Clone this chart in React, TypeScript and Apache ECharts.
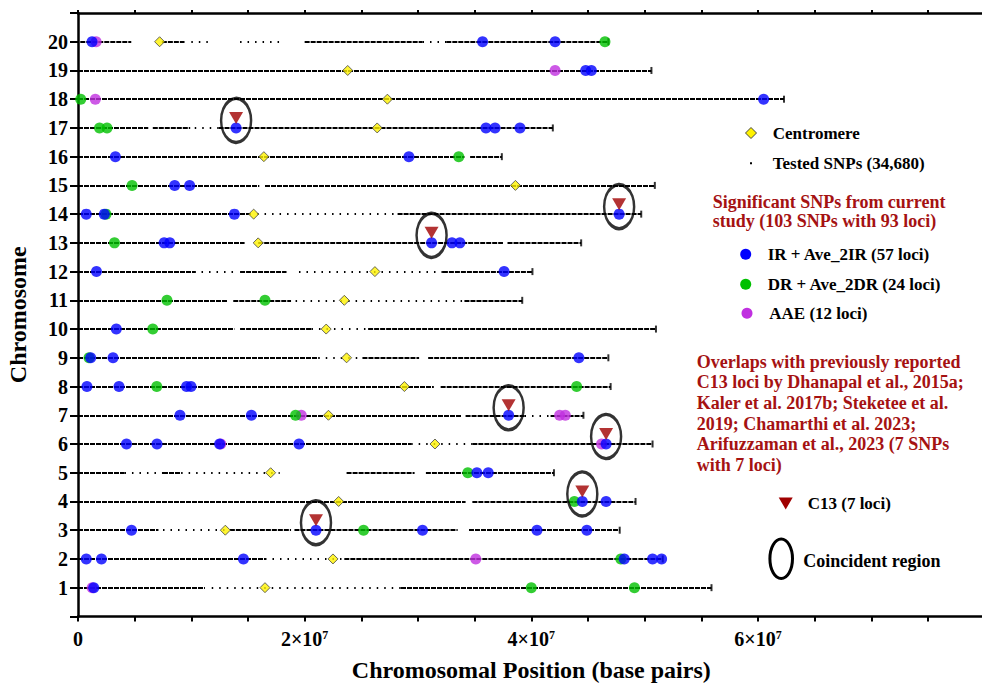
import React, { useEffect, useRef } from "react";
import * as echarts from "echarts";

// ---------- data (positions in Mb, chromosome index on y) ----------
const chromosomes = [1, 2, 3, 4, 5, 6, 7, 8, 9, 10, 11, 12, 13, 14, 15, 16, 17, 18, 19, 20];
const chromLengthMb = [55.9, 51.6, 47.8, 49.2, 42.0, 50.7, 44.6, 47.0, 46.8, 51.0, 39.2, 40.1, 44.4, 49.7, 50.9, 37.4, 41.9, 62.3, 50.6, 46.8];
const centromereMb = [16.5, 22.5, 13.0, 23.0, 17.0, 31.5, 22.1, 28.8, 23.7, 21.9, 23.5, 26.2, 15.9, 15.5, 38.6, 16.4, 26.4, 27.3, 23.8, 7.2];

// tested SNP coverage: [chromosome, startMb, endMb]
const denseSnpSegments: [number, number, number][] = [
  [1, 0, 11.2], [1, 28.5, 55.9],
  [2, 0, 16.5], [2, 23.5, 51.6],
  [3, 0, 7.1], [3, 13.4, 18.8], [3, 19.1, 33.5], [3, 34.5, 47.8],
  [4, 0, 34.2], [4, 34.8, 49.2],
  [5, 0, 4.1], [5, 7.5, 9.1], [5, 23.7, 29.7], [5, 30.7, 42.0],
  [6, 0, 29.4], [6, 34.8, 50.7],
  [7, 0, 33.8], [7, 34.2, 39.4], [7, 41.7, 44.6],
  [8, 0, 31.4], [8, 32.0, 47.0],
  [9, 0, 21.2], [9, 25.1, 30.1], [9, 30.9, 46.8],
  [10, 0, 13.8], [10, 14.3, 20.6], [10, 25.6, 51.0],
  [11, 0, 13.2], [11, 13.7, 18.8], [11, 34.1, 39.2],
  [12, 0, 10.4], [12, 14.3, 18.4], [12, 32.2, 40.1],
  [13, 0, 14.7], [13, 15.9, 37.5], [13, 37.9, 44.4],
  [14, 0, 15.3], [14, 28.2, 49.7],
  [15, 0, 16.0], [15, 16.5, 50.9],
  [16, 0, 34.1], [16, 34.6, 37.4],
  [17, 0, 6.2], [17, 6.6, 9.9], [17, 12.4, 41.9],
  [18, 0, 62.3],
  [19, 0, 50.6],
  [20, 0.2, 4.7], [20, 7.4, 9.4], [20, 20.0, 30.4], [20, 32.5, 46.8],
];
const sparseSnpSegments: [number, number, number][] = [
  [1, 11.8, 28.5], [2, 16.5, 23.5], [3, 7.5, 13.4],
  [5, 4.1, 7.5], [5, 9.1, 17.8], [6, 29.4, 34.8], [7, 39.4, 41.7],
  [9, 21.2, 25.1], [10, 20.6, 25.6], [11, 19.2, 34.1],
  [12, 10.9, 13.8], [12, 19.5, 32.2], [14, 15.8, 28.2], [17, 10.3, 12.4],
  [20, 10.0, 11.6], [20, 14.3, 18.1], [20, 30.4, 32.5],
];

// significant SNPs: [chromosome, positionMb]
const irSnps: [number, number][] = [
  [20, 1.24], [20, 35.7], [20, 42.1],
  [19, 44.8], [19, 45.3],
  [18, 60.5],
  [17, 13.95], [17, 36.0], [17, 36.8], [17, 39.0],
  [16, 3.3], [16, 29.2],
  [15, 8.53], [15, 9.85],
  [14, 0.73], [14, 2.32], [14, 13.8], [14, 47.75],
  [13, 7.6], [13, 8.1], [13, 31.2], [13, 33.0], [13, 33.7],
  [12, 1.63], [12, 37.6],
  [10, 3.38],
  [9, 1.12], [9, 3.09], [9, 44.2],
  [8, 0.79], [8, 3.62], [8, 9.58], [8, 9.97],
  [7, 9.0], [7, 15.3], [7, 38.0],
  [6, 4.28], [6, 6.97], [6, 12.5], [6, 19.5], [6, 46.6],
  [5, 35.2], [5, 36.2],
  [4, 44.5], [4, 46.6],
  [3, 4.72], [3, 21.0], [3, 30.4], [3, 40.5], [3, 44.9],
  [2, 0.73], [2, 2.07], [2, 14.6], [2, 48.2], [2, 50.7], [2, 51.5],
  [1, 1.39],
];
const drSnps: [number, number][] = [
  [20, 46.5], [18, 0.24], [17, 1.9], [17, 2.56], [16, 33.6], [15, 4.77],
  [14, 2.47], [13, 3.22], [11, 7.85], [11, 16.5], [10, 6.6], [9, 0.97],
  [8, 6.95], [8, 44.0], [7, 19.2], [5, 34.4], [4, 43.8], [3, 25.2],
  [2, 47.9], [1, 40.0], [1, 49.1],
];
const aaeSnps: [number, number][] = [
  [20, 1.6], [19, 42.1], [18, 1.53], [7, 19.7], [7, 42.5], [7, 43.0],
  [6, 12.6], [6, 46.2], [2, 35.1], [1, 1.25],
];
const c13Loci: [number, number][] = [
  [17, 13.95], [14, 47.75], [13, 31.2], [7, 38.0], [6, 46.6], [4, 44.5], [3, 21.0],
];

const xTickLabels = ["0", "2×10{sup|7}", "4×10{sup|7}", "6×10{sup|7}"];

const FONT = "'Times New Roman', 'Liberation Serif', serif";
const RED = "#A51212";
const BLUE = "#0000FF";
const GREEN = "#00C000";
const PURPLE = "#C030E0";
const MB = 1e6;

const toPts = (arr: [number, number][]) => arr.map(([c, p]) => [p * MB, c]);

function buildOption() {
  const dense = denseSnpSegments.map(([c, s, e]) => ({ coords: [[s * MB, c], [e * MB, c]] }));
  const sparse = sparseSnpSegments.map(([c, s, e]) => ({ coords: [[s * MB, c], [e * MB, c]] }));
  const ends = chromosomes.map((c, i) => [chromLengthMb[i] * MB, c]);
  const cents = chromosomes.map((c, i) => [centromereMb[i] * MB, c]);

  const txt = (x: number, y: number, text: string, size: number, fill = "#000", extra: any = {}) => ({
    type: "text",
    x,
    y,
    silent: true,
    style: {
      text,
      fill,
      font: `bold ${size}px ${FONT}`,
      verticalAlign: "middle",
      align: "left",
      ...extra,
    },
  });

  return {
    animation: false,
    backgroundColor: "#fff",
    grid: { left: 78, top: 13, width: 906.6, height: 603.4, containLabel: false, outerBoundsMode: "none" },
    xAxis: [
      {
        type: "value",
        min: 0,
        max: 8e7,
        interval: 5e6,
        position: "bottom",
        axisLine: { show: true, onZero: false, lineStyle: { color: "#000", width: 2.5 } },
        axisTick: { show: true, length: 5, lineStyle: { color: "#000", width: 2 } },
        splitLine: { show: false },
        axisLabel: {
          margin: 13,
          color: "#000",
          fontFamily: FONT,
          fontWeight: "bold",
          fontSize: 20,
          formatter: (v: number) => {
            const k = Math.round(v / 2e7);
            if (Math.abs(v - k * 2e7) < 1 && k < xTickLabels.length) return xTickLabels[k];
            return "";
          },
          rich: {
            sup: { fontSize: 12, fontWeight: "bold", fontFamily: FONT, color: "#000", verticalAlign: "top", padding: [0, 0, 8, 0] },
          },
        },
        name: "Chromosomal Position (base pairs)",
        nameLocation: "middle",
        nameGap: 42,
        nameTextStyle: { fontSize: 24, fontWeight: "bold", fontFamily: FONT, color: "#000" },
      },
      {
        type: "value",
        min: 0,
        max: 8e7,
        interval: 5e6,
        position: "top",
        axisLine: { show: true, onZero: false, lineStyle: { color: "#000", width: 2.5 } },
        axisTick: { show: true, length: 3, lineStyle: { color: "#000", width: 2 } },
        axisLabel: { show: false },
        splitLine: { show: false },
      },
    ],
    yAxis: {
      type: "value",
      min: 0,
      max: 21,
      interval: 1,
      axisLine: { show: true, onZero: false, lineStyle: { color: "#000", width: 2.5 } },
      axisTick: { show: true, length: 8, lineStyle: { color: "#000", width: 2 } },
      splitLine: { show: false },
      axisLabel: {
        margin: 10,
        color: "#000",
        fontFamily: FONT,
        fontWeight: "bold",
        fontSize: 20,
        formatter: (v: number) => (v >= 1 && v <= 20 ? String(v) : ""),
      },
      name: "Chromosome",
      nameLocation: "middle",
      nameGap: 48,
      nameRotate: 90,
      nameTextStyle: { fontSize: 24, fontWeight: "bold", fontFamily: FONT, color: "#000" },
    },
    series: [
      {
        type: "lines",
        coordinateSystem: "cartesian2d",
        silent: true,
        z: 1,
        data: dense,
        lineStyle: { color: "#000", width: 2.2, type: [5, 1], opacity: 1, curveness: 0 },
      },
      {
        type: "lines",
        coordinateSystem: "cartesian2d",
        silent: true,
        z: 1,
        data: sparse,
        lineStyle: { color: "#000", width: 2, type: [1.5, 6], opacity: 1, curveness: 0 },
      },
      {
        type: "scatter",
        silent: true,
        z: 2,
        symbol: "rect",
        symbolSize: [2, 7],
        itemStyle: { color: "#000" },
        data: ends,
      },
      {
        type: "scatter",
        silent: true,
        z: 3,
        symbol: "diamond",
        symbolSize: [10, 10],
        itemStyle: { color: "#FFF200", borderColor: "#444", borderWidth: 1 },
        data: cents,
      },
      { type: "scatter", silent: true, z: 4, symbolSize: 11, itemStyle: { color: PURPLE }, data: toPts(aaeSnps) },
      { type: "scatter", silent: true, z: 4, symbolSize: 11, itemStyle: { color: GREEN }, data: toPts(drSnps) },
      { type: "scatter", silent: true, z: 4, symbolSize: 11, itemStyle: { color: BLUE }, data: toPts(irSnps) },
      {
        type: "scatter",
        silent: true,
        z: 5,
        symbol: "triangle",
        symbolRotate: 180,
        symbolSize: [14, 12],
        symbolOffset: [0, -10],
        itemStyle: { color: "#A00000" },
        data: toPts(c13Loci),
      },
      {
        type: "scatter",
        silent: true,
        z: 6,
        symbol: "circle",
        symbolSize: [30, 44],
        symbolOffset: [0, -7.5],
        itemStyle: { color: "rgba(0,0,0,0)", borderColor: "#000", borderWidth: 3 },
        data: toPts(c13Loci),
      },
    ],
    graphic: [
      {
        type: "polygon",
        silent: true,
        shape: { points: [[751, 127.5], [756.5, 133], [751, 138.5], [745.5, 133]] },
        style: { fill: "#FFF200", stroke: "#444", lineWidth: 1 },
      },
      txt(772.7, 133, "Centromere", 17),
      { type: "rect", silent: true, shape: { x: 750, y: 162.3, width: 2, height: 2 }, style: { fill: "#000" } },
      txt(772.7, 163.5, "Tested SNPs (34,680)", 17),
      {
        type: "text",
        silent: true,
        x: 712.7,
        y: 192,
        style: {
          text: "Significant SNPs from current\nstudy (103 SNPs with 93 loci)",
          fill: RED,
          font: `bold 18px ${FONT}`,
          lineHeight: 19.5,
          verticalAlign: "top",
          align: "left",
        },
      },
      { type: "circle", silent: true, shape: { cx: 745.7, cy: 254.3, r: 5.5 }, style: { fill: BLUE } },
      txt(767.7, 254.5, "IR + Ave_2IR (57 loci)", 17),
      { type: "circle", silent: true, shape: { cx: 745.7, cy: 284.3, r: 5.5 }, style: { fill: GREEN } },
      txt(767.7, 284.5, "DR + Ave_2DR (24 loci)", 17),
      { type: "circle", silent: true, shape: { cx: 747, cy: 313.3, r: 5.5 }, style: { fill: PURPLE } },
      txt(769.3, 313.5, "AAE (12 loci)", 17),
      {
        type: "text",
        silent: true,
        x: 696.7,
        y: 351.5,
        style: {
          text:
            "Overlaps with previously reported\nC13 loci by Dhanapal et al., 2015a;\nKaler et al. 2017b; Steketee et al.\n2019; Chamarthi et al. 2023;\nArifuzzaman et al., 2023 (7 SNPs\nwith 7 loci)",
          fill: RED,
          font: `bold 18px ${FONT}`,
          lineHeight: 20.6,
          verticalAlign: "top",
          align: "left",
        },
      },
      {
        type: "polygon",
        silent: true,
        shape: { points: [[778.7, 497.5], [792.7, 497.5], [785.7, 509.5]] },
        style: { fill: "#A00000" },
      },
      txt(807.7, 503.5, "C13 (7 loci)", 17),
      {
        type: "ellipse",
        silent: true,
        shape: { cx: 781.2, cy: 558.8, rx: 11.3, ry: 19.7 },
        style: { fill: "none", stroke: "#000", lineWidth: 3 },
      },
      txt(803.3, 561, "Coincident region", 18),
    ],
  };
}

export default function App() {
  const ref = useRef<HTMLDivElement>(null);
  useEffect(() => {
    if (!ref.current) return;
    const chart = echarts.init(ref.current, null, { renderer: "svg" });
    chart.setOption(buildOption() as any);
    return () => chart.dispose();
  }, []);
  return (
    <div
      ref={ref}
      style={{ position: "fixed", left: 0, top: 0, width: 982, height: 686, background: "#fff" }}
    />
  );
}
